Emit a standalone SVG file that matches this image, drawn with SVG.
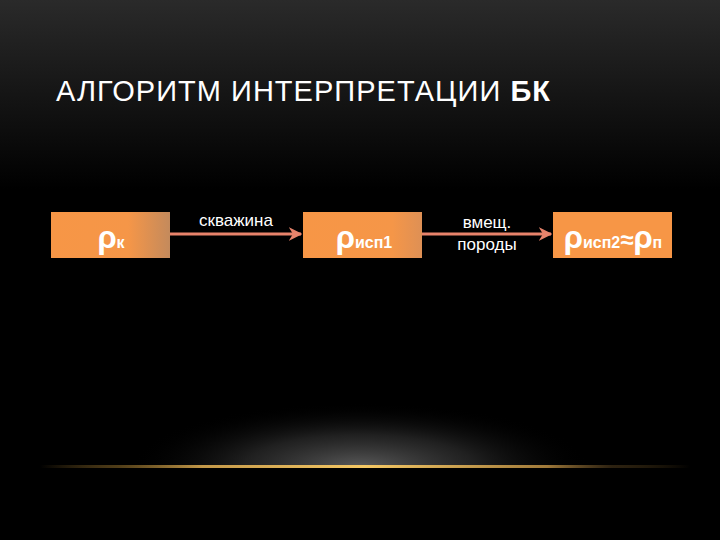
<svg xmlns="http://www.w3.org/2000/svg" width="720" height="540" viewBox="0 0 720 540">
<defs>
<linearGradient id="bg" x1="0" y1="0" x2="0" y2="1">
<stop offset="0" stop-color="#2a2a2a"/>
<stop offset="0.35" stop-color="#000"/>
<stop offset="1" stop-color="#000"/>
</linearGradient>
<radialGradient id="glow" gradientUnits="userSpaceOnUse" cx="360" cy="467" r="230" gradientTransform="translate(0 467) scale(1 0.28) translate(0 -467)">
<stop offset="0" stop-color="#5a5a5a" stop-opacity="1"/>
<stop offset="0.5" stop-color="#2e2e2e" stop-opacity="0.7"/>
<stop offset="1" stop-color="#000" stop-opacity="0"/>
</radialGradient>
<linearGradient id="line" x1="0" y1="0" x2="1" y2="0">
<stop offset="0" stop-color="#d9a441" stop-opacity="0"/>
<stop offset="0.12" stop-color="#a07a30" stop-opacity="0.5"/>
<stop offset="0.25" stop-color="#d8a850" stop-opacity="0.9"/>
<stop offset="0.5" stop-color="#f5c864"/>
<stop offset="0.78" stop-color="#c89848" stop-opacity="0.8"/>
<stop offset="0.88" stop-color="#806030" stop-opacity="0.35"/>
<stop offset="1" stop-color="#d9a441" stop-opacity="0"/>
</linearGradient>
<linearGradient id="box1" x1="0" y1="0" x2="1" y2="0">
<stop offset="0" stop-color="#f79646"/>
<stop offset="0.65" stop-color="#f59648"/>
<stop offset="1" stop-color="#c48a5c"/>
</linearGradient>
<linearGradient id="box2" x1="0" y1="0" x2="1" y2="0">
<stop offset="0" stop-color="#f79646"/>
<stop offset="0.75" stop-color="#f59648"/>
<stop offset="1" stop-color="#de9055"/>
</linearGradient>
<marker id="arr" viewBox="0 0 10 10" refX="9" refY="5" markerWidth="4.5" markerHeight="4.5" orient="auto">
<path d="M0,0 L10,5 L0,10 L3,5 z" fill="#e8836b"/>
</marker>
<style>
.box{stroke:none}
.t{font-family:"Liberation Sans",Arial,sans-serif;fill:#fff}
.rho{font-family:"Liberation Sans",Arial,sans-serif;font-weight:bold;fill:#fff}
.lbl{font-family:"Liberation Sans",Arial,sans-serif;font-size:17px;fill:#fff;text-anchor:middle}
.conn{stroke:#e8836b;stroke-width:3;fill:none}
</style>
</defs>
<rect width="720" height="540" fill="url(#bg)"/>
<rect x="100" y="390" width="520" height="77" fill="url(#glow)"/>
<rect x="40" y="465" width="650" height="3" fill="url(#line)"/>
<text class="t" x="56" y="101" font-size="29" textLength="494" lengthAdjust="spacing">АЛГОРИТМ ИНТЕРПРЕТАЦИИ <tspan font-weight="bold">БК</tspan></text>
<g id="connectors">
<line class="conn" x1="170" y1="234" x2="301" y2="234" marker-end="url(#arr)"/>
<line class="conn" x1="422" y1="234" x2="551" y2="234" marker-end="url(#arr)"/>
<text class="lbl" x="236" y="226">скважина</text>
<text class="lbl" x="487" y="228">вмещ.</text>
<text class="lbl" x="487" y="250">породы</text>
</g>
<g id="node1">
<rect class="box" x="51" y="212" width="119" height="46" fill="url(#box1)"/>
<text class="rho" x="111" y="248" text-anchor="middle"><tspan font-size="31">ρ</tspan><tspan font-size="16">к</tspan></text>
</g>
<g id="node2">
<rect class="box" x="303" y="212" width="119" height="46" fill="url(#box2)"/>
<text class="rho" x="364" y="248" text-anchor="middle"><tspan font-size="31">ρ</tspan><tspan font-size="16">исп1</tspan></text>
</g>
<g id="node3">
<rect class="box" x="553" y="212" width="119" height="46" fill="#f79646"/>
<text class="rho" x="613" y="248" text-anchor="middle"><tspan font-size="31">ρ</tspan><tspan font-size="16">исп2</tspan><tspan font-size="24">≈</tspan><tspan font-size="31">ρ</tspan><tspan font-size="16">п</tspan></text>
</g>
</svg>
